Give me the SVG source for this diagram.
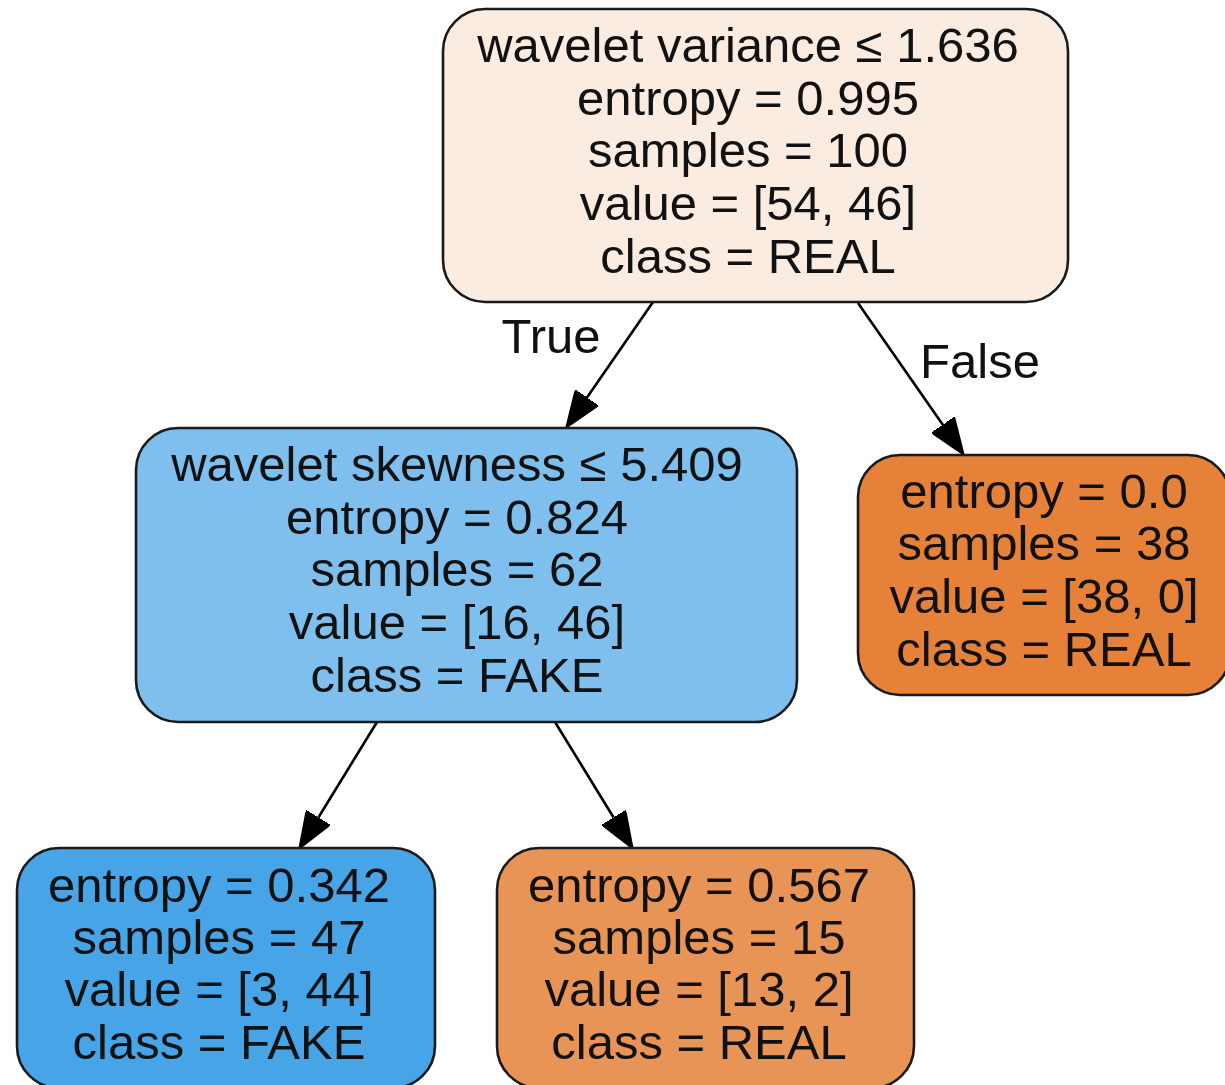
<svg xmlns="http://www.w3.org/2000/svg" width="1225" height="1085" viewBox="0 0 1225 1085">
  <style>
    .box { stroke: #1a1a1a; stroke-width: 2.6; }
    .lbl { font-family: "Liberation Sans", Arial, sans-serif; font-size: 49px; fill: #111; text-anchor: middle; }
    .edge { stroke: #000; stroke-width: 2.6; fill: none; }
  </style>
  <defs>
    <marker id="arrow" viewBox="0 0 37 28" markerWidth="37" markerHeight="28" refX="0" refY="14" orient="auto" markerUnits="userSpaceOnUse">
      <path d="M0,0 L37,14 L0,28 Z" fill="#000" stroke="#000" stroke-width="1.5"/>
    </marker>
  </defs>
  <rect width="1225" height="1085" fill="#ffffff"/>

  <!-- connectors -->
  <g id="edges">
    <line class="edge" x1="653" y1="302" x2="587" y2="397.5" marker-end="url(#arrow)"/>
    <line class="edge" x1="858" y1="303" x2="942.8" y2="424.7" marker-end="url(#arrow)"/>
    <line class="edge" x1="377" y1="722" x2="318.4" y2="817.5" marker-end="url(#arrow)"/>
    <line class="edge" x1="555" y1="722" x2="613.6" y2="817.5" marker-end="url(#arrow)"/>
    <text class="lbl" x="551" y="353">True</text>
    <text class="lbl" x="980" y="378">False</text>
  </g>

  <!-- split: wavelet variance -->
  <g id="node0">
    <rect class="box" x="443" y="9" width="625" height="293" rx="42" ry="42" fill="#fbece2"/>
    <text class="lbl" x="748" y="62">wavelet variance ≤ 1.636</text>
    <text class="lbl" x="748" y="115">entropy = 0.995</text>
    <text class="lbl" x="748" y="167">samples = 100</text>
    <text class="lbl" x="748" y="220">value = [54, 46]</text>
    <text class="lbl" x="748" y="273">class = REAL</text>
  </g>

  <!-- split: wavelet skewness -->
  <g id="node1">
    <rect class="box" x="136" y="428" width="661" height="294" rx="42" ry="42" fill="#7ebfee"/>
    <text class="lbl" x="457" y="481">wavelet skewness ≤ 5.409</text>
    <text class="lbl" x="457" y="534">entropy = 0.824</text>
    <text class="lbl" x="457" y="586">samples = 62</text>
    <text class="lbl" x="457" y="639">value = [16, 46]</text>
    <text class="lbl" x="457" y="692">class = FAKE</text>
  </g>

  <!-- leaf: pure REAL -->
  <g id="node4">
    <rect class="box" x="858" y="455" width="372" height="240" rx="42" ry="42" fill="#e58139"/>
    <text class="lbl" x="1044" y="508">entropy = 0.0</text>
    <text class="lbl" x="1044" y="560">samples = 38</text>
    <text class="lbl" x="1044" y="613">value = [38, 0]</text>
    <text class="lbl" x="1044" y="666">class = REAL</text>
  </g>

  <!-- leaf: mostly FAKE -->
  <g id="node2">
    <rect class="box" x="17" y="848" width="418" height="240" rx="42" ry="42" fill="#46a4e7"/>
    <text class="lbl" x="219" y="902">entropy = 0.342</text>
    <text class="lbl" x="219" y="954">samples = 47</text>
    <text class="lbl" x="219" y="1006">value = [3, 44]</text>
    <text class="lbl" x="219" y="1059">class = FAKE</text>
  </g>

  <!-- leaf: mostly REAL -->
  <g id="node3">
    <rect class="box" x="497" y="848" width="417" height="240" rx="42" ry="42" fill="#e99457"/>
    <text class="lbl" x="699" y="902">entropy = 0.567</text>
    <text class="lbl" x="699" y="954">samples = 15</text>
    <text class="lbl" x="699" y="1006">value = [13, 2]</text>
    <text class="lbl" x="699" y="1059">class = REAL</text>
  </g>
</svg>
